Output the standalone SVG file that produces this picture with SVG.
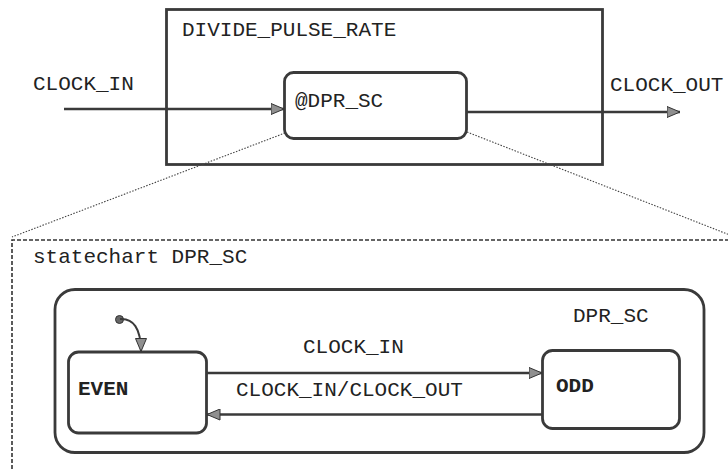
<svg xmlns="http://www.w3.org/2000/svg" width="728" height="469" viewBox="0 0 728 469">
<defs>
<style>
text{font-family:"Liberation Mono","Courier New",monospace;font-size:21px;fill:#222}
.b{font-weight:bold}
.box{fill:none;stroke:#3a3a3a;stroke-width:2.8}
.line{fill:none;stroke:#3a3a3a;stroke-width:2.6}
.dot{fill:none;stroke:#444;stroke-width:1.1;stroke-dasharray:1.5 1.5}
.dash{fill:none;stroke:#333;stroke-width:1.6;stroke-dasharray:4 2}
</style>
<marker id="ah" viewBox="0 0 14 12" refX="13.5" refY="6" markerWidth="14" markerHeight="12" markerUnits="userSpaceOnUse" orient="auto">
<path d="M0.5,0.5 L13.5,6 L0.5,11.5 z" fill="#8f8f8f" stroke="#333" stroke-width="1"/>
</marker>
</defs>
<rect width="728" height="469" fill="#fff"/>

<g id="divide_pulse_rate">
<rect class="box" x="166.5" y="9.5" width="436" height="155"/>
<text x="182" y="36">DIVIDE_PULSE_RATE</text>
</g>

<g id="dpr_sc_ref">
<rect class="box" x="284.5" y="72.5" width="182" height="66" rx="9"/>
<text x="295" y="107">@DPR_SC</text>
</g>

<g id="zoom_frame">
<path class="dash" d="M12,469 L12,240 L728,240"/>
<text x="33" y="263">statechart DPR_SC</text>
</g>

<g id="dpr_sc">
<rect class="box" x="55" y="289.5" width="649" height="163" rx="20"/>
<text x="573" y="322">DPR_SC</text>
</g>

<g id="even">
<rect class="box" x="68.5" y="352" width="138" height="81" rx="10"/>
<text class="b" x="78" y="395">EVEN</text>
</g>

<g id="odd">
<rect class="box" x="542.5" y="350.5" width="137" height="78" rx="10"/>
<text class="b" x="556" y="392">ODD</text>
</g>

<g id="connectors">
<path class="dot" d="M285,133 L12,237"/>
<path class="dot" d="M467,132 L740,239"/>
<path class="line" d="M64,109 L284,109" marker-end="url(#ah)"/>
<text x="33" y="90">CLOCK_IN</text>
<path class="line" d="M467,112 L680,112" marker-end="url(#ah)"/>
<text x="610" y="91">CLOCK_OUT</text>
<path class="line" d="M207,373 L542,373" marker-end="url(#ah)"/>
<text x="303" y="353">CLOCK_IN</text>
<path class="line" d="M542,414.5 L207,414.5" marker-end="url(#ah)"/>
<text x="236" y="396">CLOCK_IN/CLOCK_OUT</text>
<circle cx="119.5" cy="319.5" r="4" fill="#666" stroke="#333" stroke-width="1"/>
<path class="line" style="stroke-width:2" d="M120,319 C133,318 141,328 141,351.5" marker-end="url(#ah)"/>
</g>
</svg>
